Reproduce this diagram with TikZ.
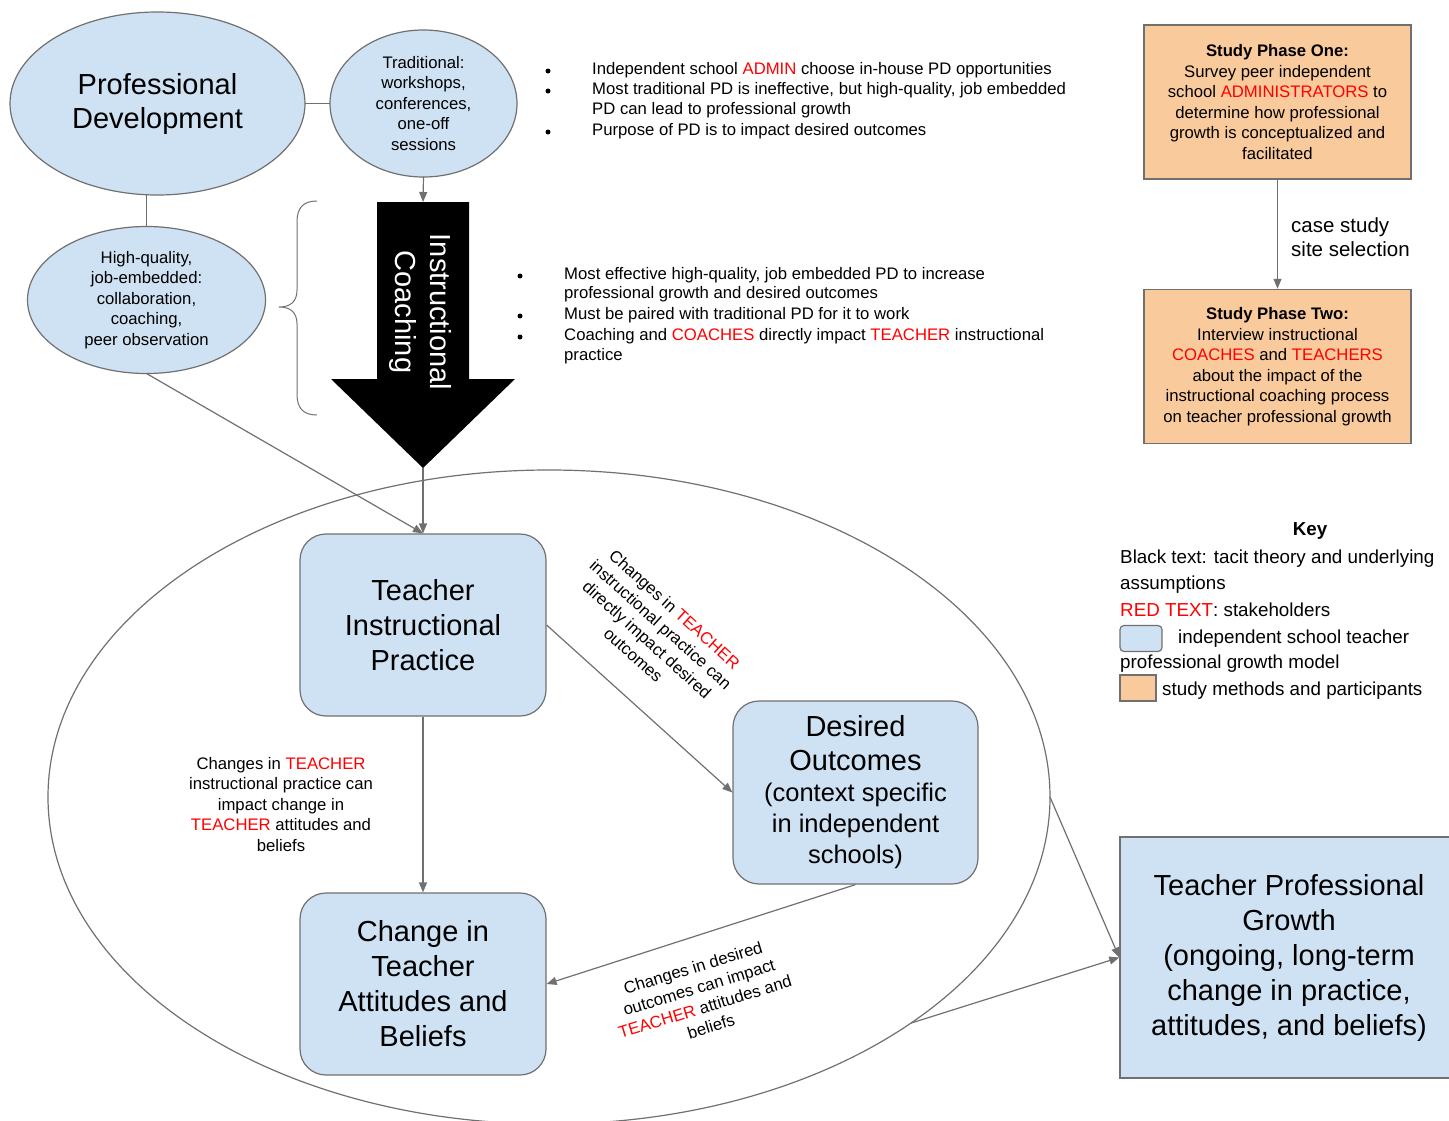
\documentclass[tikz,border=0pt]{standalone}
\usepackage{fontspec}
\setmainfont{Liberation Sans}
\usetikzlibrary{shapes.geometric,arrows.meta,calc}

\definecolor{pdblue}{HTML}{CFE2F3}
\definecolor{studyorange}{HTML}{F9CB9C}
\definecolor{edgegray}{HTML}{707070}
\definecolor{stake}{HTML}{FF0000}

% stakeholder names are set in red
\newcommand{\stk}[1]{\textcolor{stake}{#1}}
% larger type for the title lines of a box
\newcommand{\bigline}{\fontsize{29}{34}\selectfont}

\tikzset{
  conn/.style={draw=edgegray, line width=1.2pt, -{Triangle[length=10pt,width=8pt]}},
  link/.style={draw=edgegray, line width=1.2pt},
  bigtxt/.style={font=\fontsize{29}{35}\selectfont},
  smalltxt/.style={font=\fontsize{16.7}{20.5}\selectfont},
  keytxt/.style={font=\fontsize{18.8}{22}\selectfont},
  blueell/.style={ellipse, draw=edgegray, fill=pdblue, line width=1.2pt,
    inner sep=0pt, outer sep=0pt, align=center},
  bluebox/.style={rectangle, rounded corners=26pt, draw=edgegray, fill=pdblue,
    line width=1.2pt, inner sep=0pt, align=center,
    minimum width=246pt, minimum height=182pt},
  studybox/.style={rectangle, draw=edgegray, fill=studyorange, line width=1.5pt,
    minimum width=267pt, minimum height=154pt, inner sep=0pt, align=center},
  txtline/.style={anchor=base west, inner sep=0pt},
  bul/.style={circle, fill=black, inner sep=0pt, minimum size=5pt},
}

\begin{document}
\begin{tikzpicture}[x=1pt, y=-1pt]
\useasboundingbox (0,0) rectangle (1449,1120);

% large enclosing ellipse of the growth model
\node[ellipse, draw=edgegray, line width=1.2pt, minimum width=1002pt,
  minimum height=654pt, inner sep=0pt, outer sep=0pt] (model) at (549,797) {};

% professional development ellipses
\node[blueell, minimum width=295pt, minimum height=183pt,
  font=\fontsize{29}{34}\selectfont] (pd) at (157.5,103.5) {Professional\\Development};
\node[blueell, minimum width=187pt, minimum height=147pt, smalltxt]
  (trad) at (423.5,103.5) {Traditional:\\workshops,\\conferences,\\one-off\\sessions};
\node[blueell, minimum width=238pt, minimum height=147pt, smalltxt]
  (hq) at (146.5,300) {High-quality,\\job-embedded:\\collaboration,\\coaching,\\peer observation};

\draw[link] (pd) -- (trad);
\draw[link] (hq.north |- pd.south) -- (hq.north);

% instructional coaching block arrow
\coordinate (ictop) at (423,202);
\coordinate (ictip) at (423,468);
\fill[black] (377,202) -- (469,202) -- (469,379) -- (515,379) -- (ictip)
  -- (331,379) -- (377,379) -- cycle;
\node[rotate=-90, text=white, align=center, font=\fontsize{29}{35}\selectfont]
  (ic) at (420,312) {Instructional\\Coaching};

% brace grouping the coaching notes
\draw[edgegray, line width=1pt] (317,201) .. controls (303,201) and (297,208) .. (297,222)
  -- (297,290) .. controls (297,302) and (290,307) .. (279,307)
  .. controls (290,307) and (297,312) .. (297,324)
  -- (297,394) .. controls (297,408) and (303,415) .. (317,415);

% notes on professional development
\begin{scope}[smalltxt]
\node[bul] (ba1) at (548,71) {};
\node[txtline] (ta1) at (592,74) {Independent school \stk{ADMIN} choose in-house PD opportunities};
\node[bul] (ba2) at (548,91) {};
\node[txtline] (ta2) at (592,94) {Most traditional PD is ineffective, but high-quality, job embedded};
\node[txtline] (ta3) at (592,114) {PD can lead to professional growth};
\node[bul] (ba3) at (548,132) {};
\node[txtline] (ta4) at (592,135) {Purpose of PD is to impact desired outcomes};

% notes on instructional coaching
\node[bul] (bb1) at (520,276) {};
\node[txtline] (tb1) at (564,279) {Most effective high-quality, job embedded PD to increase};
\node[txtline] (tb2) at (564,298) {professional growth and desired outcomes};
\node[bul] (bb2) at (520,316) {};
\node[txtline] (tb3) at (564,319) {Must be paired with traditional PD for it to work};
\node[bul] (bb3) at (520,337) {};
\node[txtline] (tb4) at (564,340) {Coaching and \stk{COACHES} directly impact \stk{TEACHER} instructional};
\node[txtline] (tb5) at (564,360) {practice};
\end{scope}

% study phases
\node[studybox, smalltxt] (sp1) at (1277.5,102) {\textbf{Study Phase One:}\\Survey peer independent\\school \stk{ADMINISTRATORS} to\\determine how professional\\growth is conceptualized and\\facilitated};
\node[studybox, smalltxt] (sp2) at (1277.5,366.5) {\textbf{Study Phase Two:}\\Interview instructional\\\stk{COACHES} and \stk{TEACHERS}\\about the impact of the\\instructional coaching process\\on teacher professional growth};
\draw[conn] (sp1) -- (sp2);
\node[anchor=west, align=left, inner sep=0pt, font=\fontsize{20.5}{24}\selectfont]
  (cs) at (1291,237) {case study\\site selection};

% key
\node[font=\bfseries\fontsize{18.8}{22}\selectfont] (keyt) at (1310,531) {Key};
\begin{scope}[keytxt]
\node[txtline] (k1) at (1120,563.5) {Black text: tacit theory and underlying};
\node[txtline] (k2) at (1120,589.5) {assumptions};
\node[txtline] (k3) at (1120,616.5) {\stk{RED TEXT}: stakeholders};
\node[draw=edgegray, fill=pdblue, line width=1.2pt, rounded corners=4pt,
  minimum width=42pt, minimum height=26pt, inner sep=0pt] (kblue) at (1141,638.5) {};
\node[txtline] (k4) at (1178,643.5) {independent school teacher};
\node[txtline] (k5) at (1120,668.5) {professional growth model};
\node[draw=edgegray, fill=studyorange, line width=1.2pt,
  minimum width=36pt, minimum height=26pt, inner sep=0pt] (korange) at (1138,688) {};
\node[txtline] (k6) at (1162,695.5) {study methods and participants};
\end{scope}

% growth model boxes
\node[bluebox, bigtxt] (tip) at (423,625) {Teacher\\Instructional\\Practice};
\node[bluebox, bigtxt] (ctab) at (423,984) {Change in\\Teacher\\Attitudes and\\Beliefs};
\node[bluebox, minimum width=245pt, minimum height=183pt,
  font=\fontsize{25.5}{31}\selectfont] (do) at (855.5,792.5)
  {\bigline Desired\\[3pt]\bigline Outcomes\\(context specific\\in independent\\schools)};
\node[rectangle, draw=edgegray, fill=pdblue, line width=1.5pt, minimum width=338pt,
  minimum height=241pt, inner sep=0pt, align=center, bigtxt] (tpg) at (1289,957.5)
  {Teacher Professional\\Growth\\(ongoing, long-term\\change in practice,\\attitudes, and beliefs)};

% connectors
\draw[conn] (trad.south) -- (ictop);
\draw[conn] (ictip) -- (tip.north);
\draw[conn] (hq.south) -- (tip.north);
\draw[conn] (tip.east) -- (do.west);
\draw[conn] (tip.south) -- (ctab.north);
\draw[conn] (do.south) -- (ctab.east);
\draw[conn] (model.east) -- (tpg.west);
\draw[conn] (model.-32.7) -- (tpg.west);

% connector labels
\node[smalltxt, align=center] (lbl1) at (281,804.5)
  {Changes in \stk{TEACHER}\\instructional practice can\\impact change in\\\stk{TEACHER} attitudes and\\beliefs};
\node[smalltxt, align=center, rotate=-42] (lbl2) at (654,632)
  {Changes in \stk{TEACHER}\\instructional practice can\\directly impact desired\\outcomes};
\node[smalltxt, align=center, rotate=17] (lbl3) at (702,997)
  {Changes in desired\\outcomes can impact\\\stk{TEACHER} attitudes and\\beliefs};
\end{tikzpicture}
\end{document}
